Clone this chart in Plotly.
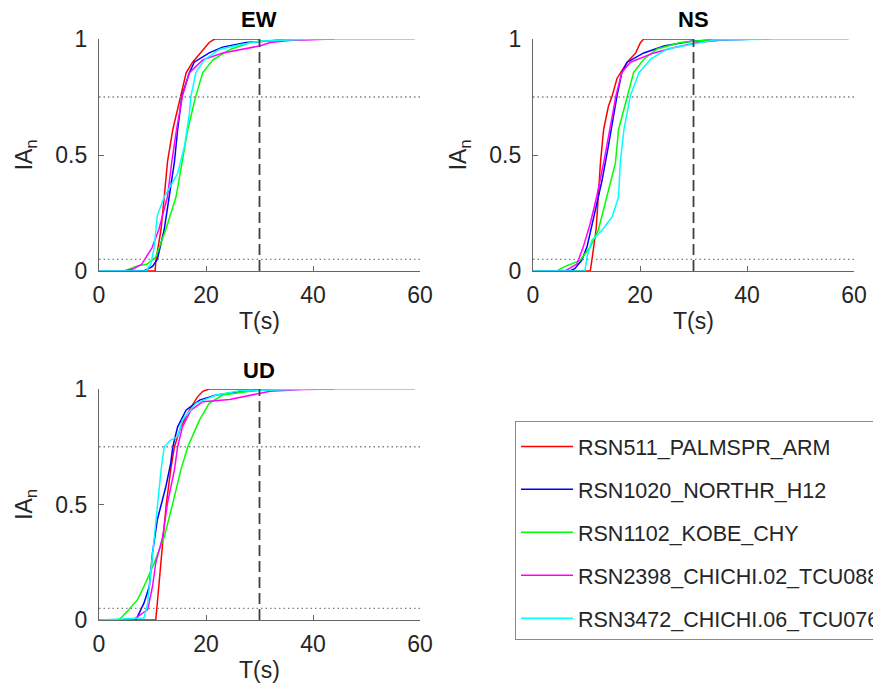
import plotly.graph_objects as go

# ---------------- data ----------------
RECORDS = ["RSN511_PALMSPR_ARM", "RSN1020_NORTHR_H12", "RSN1102_KOBE_CHY",
           "RSN2398_CHICHI.02_TCU088", "RSN3472_CHICHI.06_TCU076"]
COLORS = ["#ff0000", "#0000ff", "#00ff00", "#ff00ff", "#00ffff"]
COMPONENTS = ["EW", "NS", "UD"]

# EW component
EW_T_511 = [0, 10.5, 10.6, 11.0, 11.6, 12.2, 12.8, 13.8, 15.3, 16.3, 17.5, 19.4, 20.6, 21.6, 30]
EW_IA_511 = [0, 0, 0.04, 0.10, 0.18, 0.32, 0.47, 0.61, 0.755, 0.855, 0.90, 0.95, 0.985, 1.0, 1.0]
EW_T_1020 = [0, 8.4, 10.0, 10.9, 12.2, 13.1, 14.1, 14.7, 15.5, 16.9, 17.8, 20.6, 23.1, 27.5, 30, 35, 44]
EW_IA_1020 = [0, 0, 0.02, 0.05, 0.18, 0.32, 0.47, 0.61, 0.755, 0.855, 0.90, 0.94, 0.965, 0.985, 0.99, 0.997, 1.0]
EW_T_1102 = [0, 4.8, 6.9, 9.0, 10.6, 12.5, 14.4, 15.6, 16.6, 18.1, 19.4, 21.3, 24.5, 28.3, 30, 35, 42]
EW_IA_1102 = [0, 0, 0.02, 0.03, 0.06, 0.18, 0.32, 0.47, 0.61, 0.755, 0.855, 0.91, 0.955, 0.985, 0.99, 0.997, 1.0]
EW_T_2398 = [0, 4.5, 6.5, 8.0, 9.9, 11.2, 12.8, 13.6, 14.5, 15.6, 16.9, 19.4, 23.1, 26.9, 30, 32, 36, 44]
EW_IA_2398 = [0, 0, 0.01, 0.03, 0.10, 0.18, 0.32, 0.47, 0.61, 0.755, 0.855, 0.91, 0.94, 0.955, 0.97, 0.985, 0.995, 1.0]
EW_T_3472 = [0, 8.8, 9.7, 10.3, 10.9, 12.2, 14.7, 16.0, 16.9, 17.2, 18.1, 19.7, 22.5, 26.3, 30, 35, 40, 59]
EW_IA_3472 = [0, 0, 0.03, 0.10, 0.24, 0.32, 0.42, 0.54, 0.68, 0.755, 0.855, 0.91, 0.955, 0.975, 0.99, 0.996, 1.0, 1.0]

# NS component
NS_T_511 = [0, 10.7, 11.0, 11.8, 12.2, 12.6, 13.2, 14.1, 14.8, 15.7, 17.6, 19.2, 20.1, 20.7, 30]
NS_IA_511 = [0, 0, 0.046, 0.18, 0.32, 0.465, 0.61, 0.71, 0.755, 0.83, 0.90, 0.94, 0.985, 1.0, 1.0]
NS_T_1020 = [0, 6.9, 7.8, 9.1, 10.1, 11.6, 12.9, 14.1, 15.1, 15.7, 16.6, 17.6, 20.7, 24.5, 29.5, 35, 44]
NS_IA_1020 = [0, 0, 0.01, 0.046, 0.104, 0.25, 0.39, 0.54, 0.68, 0.755, 0.855, 0.90, 0.94, 0.97, 0.99, 0.997, 1.0]
NS_T_1102 = [0, 4.5, 5.7, 8.8, 10.7, 12.2, 13.8, 15.4, 16.0, 17.6, 18.8, 20.7, 23.2, 27.6, 33, 40]
NS_IA_1102 = [0, 0, 0.017, 0.046, 0.104, 0.176, 0.32, 0.465, 0.61, 0.755, 0.855, 0.913, 0.957, 0.985, 0.997, 1.0]
NS_T_2398 = [0, 6.0, 8.2, 9.4, 10.7, 11.9, 13.2, 14.3, 15.5, 16.6, 18.2, 22.6, 26.4, 30.8, 36, 44]
NS_IA_2398 = [0, 0, 0.03, 0.104, 0.205, 0.32, 0.465, 0.61, 0.755, 0.855, 0.90, 0.94, 0.963, 0.985, 0.997, 1.0]
NS_T_3472 = [0, 9.7, 10.1, 11.0, 12.9, 14.8, 16.0, 16.3, 17.0, 18.2, 19.8, 22.0, 25.1, 29.5, 33.9, 45, 59]
NS_IA_3472 = [0, 0, 0.061, 0.133, 0.176, 0.234, 0.32, 0.465, 0.61, 0.755, 0.855, 0.913, 0.957, 0.978, 0.996, 1.0, 1.0]

# UD component
UD_T_511 = [0, 10.6, 10.9, 11.4, 12.0, 12.6, 13.4, 14.1, 15.3, 16.9, 18.4, 19.4, 20.6, 30]
UD_IA_511 = [0, 0, 0.073, 0.217, 0.36, 0.506, 0.65, 0.75, 0.836, 0.909, 0.966, 0.99, 1.0, 1.0]
UD_T_1020 = [0, 6.9, 8.4, 9.4, 10.0, 10.9, 12.5, 13.4, 13.8, 14.7, 16.3, 18.8, 21.9, 26.3, 30, 36, 44]
UD_IA_1020 = [0, 0, 0.073, 0.145, 0.289, 0.434, 0.578, 0.678, 0.75, 0.836, 0.909, 0.952, 0.974, 0.988, 0.995, 0.999, 1.0]
UD_T_1102 = [0, 3.5, 4.1, 5.6, 7.2, 8.4, 10.3, 12.2, 13.8, 15.3, 16.6, 18.8, 20.6, 23.1, 27.5, 30, 35, 40]
UD_IA_1102 = [0, 0, 0.009, 0.045, 0.088, 0.145, 0.246, 0.36, 0.506, 0.65, 0.75, 0.866, 0.938, 0.974, 0.988, 0.995, 0.999, 1.0]
UD_T_2398 = [0, 6.3, 9.1, 10.0, 10.6, 11.9, 12.8, 14.1, 14.7, 15.6, 17.2, 19.4, 24.4, 28.8, 32, 38, 44]
UD_IA_2398 = [0, 0, 0.045, 0.145, 0.246, 0.36, 0.506, 0.65, 0.75, 0.836, 0.909, 0.945, 0.955, 0.974, 0.99, 0.998, 1.0]
UD_T_3472 = [0, 8.4, 9.1, 9.7, 10.3, 10.9, 11.6, 12.2, 13.4, 14.7, 15.6, 18.1, 21.9, 26.3, 30, 40, 59]
UD_IA_3472 = [0, 0.009, 0.073, 0.217, 0.36, 0.506, 0.65, 0.75, 0.779, 0.794, 0.866, 0.938, 0.974, 0.992, 0.995, 1.0, 1.0]

# reference lines
IA_THRESHOLDS = [0.05, 0.75]
T_CUTOFF = 30
T_RANGE = [0, 60]
X_TICKS = [0, 20, 40, 60]
Y_TICKS = [0, 0.5, 1]
Y_TICKTEXT = ["0", "0.5", "1"]

DATA = {
    "EW": [(EW_T_511, EW_IA_511), (EW_T_1020, EW_IA_1020), (EW_T_1102, EW_IA_1102),
           (EW_T_2398, EW_IA_2398), (EW_T_3472, EW_IA_3472)],
    "NS": [(NS_T_511, NS_IA_511), (NS_T_1020, NS_IA_1020), (NS_T_1102, NS_IA_1102),
           (NS_T_2398, NS_IA_2398), (NS_T_3472, NS_IA_3472)],
    "UD": [(UD_T_511, UD_IA_511), (UD_T_1020, UD_IA_1020), (UD_T_1102, UD_IA_1102),
           (UD_T_2398, UD_IA_2398), (UD_T_3472, UD_IA_3472)],
}

# ---------------- layout ----------------
W, H = 881, 697
OFF = 8  # page body margin offset
FONT = "Arial, Liberation Sans, sans-serif"
TXT = "#262626"
AX = "#666666"

# plot areas in screen pixels: (x0, x1, ytop, ybottom)
BOXES = {"EW": (99, 420, 39, 271), "NS": (533, 854, 39, 271), "UD": (99, 420, 389, 620)}


def px(v):
    return v - OFF


fig = go.Figure()
layout = dict(width=W, height=H, margin=dict(l=0, r=0, t=0, b=0, autoexpand=False),
              paper_bgcolor="white", plot_bgcolor="white",
              font=dict(family=FONT, color=TXT, size=22), annotations=[])

for i, comp in enumerate(COMPONENTS):
    n = "" if i == 0 else str(i + 1)
    xa, ya = "x" + n, "y" + n
    x0, x1, yt, yb = [px(v) for v in BOXES[comp]]
    for j, (t, ia) in enumerate(DATA[comp]):
        fig.add_trace(go.Scatter(x=t, y=ia, mode="lines", xaxis=xa, yaxis=ya,
                                 line=dict(color=COLORS[j], width=1.5),
                                 name=RECORDS[j], legendgroup=RECORDS[j],
                                 showlegend=(i == 0)))
    for th in IA_THRESHOLDS:
        fig.add_trace(go.Scatter(x=T_RANGE, y=[th, th], mode="lines", xaxis=xa, yaxis=ya,
                                 line=dict(color="#808080", width=1.3, dash="1.5px,3px"),
                                 showlegend=False, hoverinfo="skip"))
    fig.add_trace(go.Scatter(x=[T_CUTOFF, T_CUTOFF], y=[0, 1], mode="lines", xaxis=xa, yaxis=ya,
                             line=dict(color="#404040", width=1.8, dash="11px,5px"),
                             showlegend=False, hoverinfo="skip"))

    layout["xaxis" + n] = dict(domain=[x0 / W, x1 / W], anchor=ya, range=T_RANGE,
                               tickvals=X_TICKS, ticks="inside", ticklen=5, tickcolor=AX,
                               showline=True, linecolor=AX, linewidth=1.2,
                               showgrid=False, zeroline=False,
                               tickfont=dict(size=23, color=TXT), ticklabelstandoff=3,
                               title=dict(text="T(s)", font=dict(size=23, color=TXT), standoff=6))
    layout["yaxis" + n] = dict(domain=[1 - yb / H, 1 - yt / H], anchor=xa, range=[0, 1],
                               tickvals=Y_TICKS, ticktext=Y_TICKTEXT, ticks="inside",
                               ticklen=5, tickcolor=AX,
                               showline=True, linecolor=AX, linewidth=1.2,
                               showgrid=False, zeroline=False,
                               tickfont=dict(size=23, color=TXT), ticklabelstandoff=6,
                               title=dict(text="IA<sub>n</sub>", font=dict(size=23, color=TXT),
                                          standoff=16))
    layout["annotations"].append(dict(text="<b>%s</b>" % comp, x=(x0 + x1) / 2 / W,
                                      y=1 - (yt - 19) / H, xref="paper", yref="paper",
                                      showarrow=False, font=dict(size=22, color="black"),
                                      xanchor="center", yanchor="middle"))

layout["legend"] = dict(x=px(515) / W, y=1 - px(421) / H, xanchor="left", yanchor="top",
                        bordercolor="#8a8a8a", borderwidth=1, bgcolor="white",
                        font=dict(size=21.5, color=TXT, family=FONT),
                        title=dict(text=" ", font=dict(size=3)),
                        itemwidth=52, tracegroupgap=12, traceorder="grouped")
fig.update_layout(**layout)
fig.write_html("out.html")
